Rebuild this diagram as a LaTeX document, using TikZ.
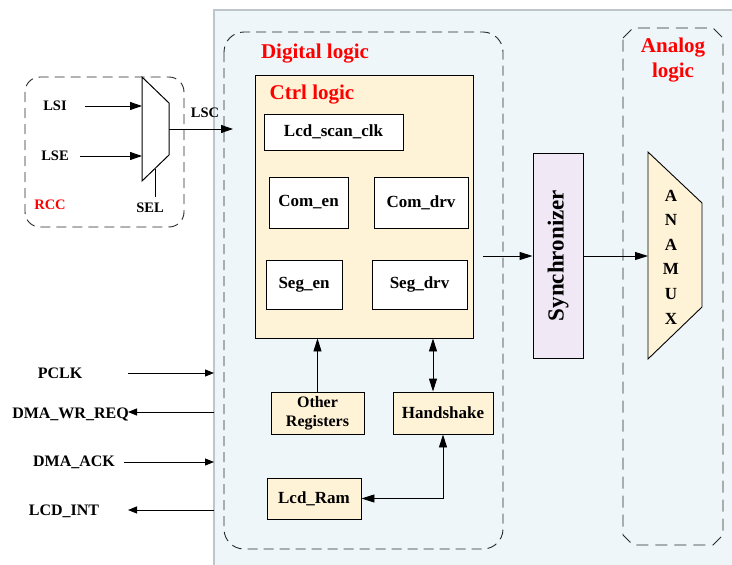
\documentclass[tikz,border=0pt]{standalone}
\usepackage{fontspec}
\setmainfont{Liberation Serif}
\usetikzlibrary{arrows.meta}
\definecolor{panelfill}{RGB}{239,246,250}
\definecolor{panelline}{RGB}{190,198,204}
\definecolor{cream}{RGB}{255,243,215}
\definecolor{lav}{RGB}{240,232,245}
\definecolor{redtxt}{RGB}{255,0,0}
\definecolor{dashgray}{RGB}{40,40,40}
\begin{document}
\begin{tikzpicture}[x=1pt,y=-1pt,
  lbl/.style={font=\bfseries\fontsize{16}{16}\selectfont, inner sep=0pt},
  smlbl/.style={font=\bfseries\fontsize{14.5}{14.5}\selectfont, inner sep=0pt},
  title/.style={font=\bfseries\fontsize{21}{25}\selectfont, text=redtxt, inner sep=0pt, align=center},
  blk/.style={draw, line width=0.9pt, fill=white, font=\bfseries\fontsize{17}{20}\selectfont, inner sep=0pt, align=center},
  arr/.style={-{Triangle[length=13pt,width=8pt]}, line width=0.9pt},
  sarr/.style={-{Triangle[length=9pt,width=7pt]}, line width=0.9pt},
  bigarr/.style={-{Triangle[length=12pt,width=8pt]}, line width=0.9pt},
  dbl/.style={{Triangle[length=13pt,width=8pt]}-{Triangle[length=13pt,width=8pt]}, line width=0.9pt},
  dashbox/.style={draw=dashgray, line width=0.9pt, dash pattern=on 10pt off 6pt}
]
\useasboundingbox (0,0) rectangle (732,565);
% panel
\fill[panelfill] (214,10) rectangle (740,575);
\draw[panelline, line width=1.2pt] (214,575) -- (214,10) -- (740,10);

% RCC block
\draw[dashbox, rounded corners=15pt] (25,77) rectangle (184,227);
\coordinate (m1) at (142,77);
\coordinate (m2) at (169,103);
\coordinate (m3) at (169,155);
\coordinate (m4) at (142,181);
\draw[line width=1pt, fill=white] (m1) -- (m2) -- (m3) -- (m4) -- cycle;
\node[smlbl] (lsi) at (55,106) {LSI};
\node[smlbl] (lse) at (55,156) {LSE};
\node[smlbl, text=redtxt] (rcc) at (50,205) {RCC};
\node[smlbl] (sel) at (150,208) {SEL};
\node[smlbl] (lsc) at (205,113) {LSC};
\coordinate (lsiS) at (85,106);
\coordinate (lseS) at (80,156);
\draw[bigarr] (lsiS) -- (lsiS -| m1);
\draw[bigarr] (lseS) -- (lseS -| m1);
\coordinate (selT) at (155,168.5);
\draw[line width=1pt] (selT) -- (155,197);
\coordinate (lscS) at (169,129);
\coordinate (lscE) at (233,129);
\draw[bigarr] (lscS) -- (lscE);

% Digital logic
\draw[dashbox, rounded corners=20pt] (224,32) rectangle (503,549);
\node[title] (dig) at (315,54) {Digital logic};

% Ctrl logic
\node[draw, line width=0.9pt, fill=cream, minimum width=218pt, minimum height=263pt, inner sep=0pt] (ctrl) at (364,206.5) {};
\node[title] (ctrlt) at (312,95) {Ctrl logic};
\node[blk, minimum width=139pt, minimum height=36pt] (scan) at (333.5,132) {Lcd\_scan\_clk};
\node[blk, minimum width=79pt, minimum height=51pt] (comen) at (308.5,202.5) {Com\_en};
\node[blk, minimum width=94pt, minimum height=51pt] (comdrv) at (421,202.5) {Com\_drv};
\node[blk, minimum width=76pt, minimum height=49pt] (segen) at (304,284.5) {Seg\_en};
\node[blk, minimum width=95pt, minimum height=49pt] (segdrv) at (419.5,284.5) {Seg\_drv};

\node[blk, fill=cream, minimum width=93pt, minimum height=42pt, font=\bfseries\fontsize{16}{19}\selectfont] (other) at (317.5,413) {Other\\Registers};
\node[blk, fill=cream, minimum width=100pt, minimum height=42pt] (hand) at (443,413) {Handshake};
\node[blk, fill=cream, minimum width=94pt, minimum height=41pt] (ram) at (314,498.5) {Lcd\_Ram};

\draw[arr] (other.north) -- (other.north |- ctrl.south);
\draw[dbl] ([xshift=-10pt]hand.north |- ctrl.south) -- ([xshift=-10pt]hand.north);
\draw[dbl] (hand.south) |- (ram.east);

% Synchronizer
\node[draw, line width=0.9pt, fill=lav, minimum width=50pt, minimum height=205pt, inner sep=0pt] (sync) at (558,255.5) {};
\node[font=\bfseries\fontsize{23}{23}\selectfont, rotate=90, inner sep=0pt] (synct) at (sync.center) {Synchronizer};
\coordinate (syncin) at (483,256);
\draw[arr] (syncin) -- (syncin -| sync.west);

% Analog logic
\draw[dashbox, dash pattern=on 12pt off 7pt] (623,38) -- (633,28) -- (713,28) -- (723,38) -- (723,535) -- (713,545) -- (633,545) -- (623,535) -- cycle;
\node[title] (ana) at (673,60) {Analog\\logic};
\coordinate (a1) at (648,152);
\coordinate (a2) at (702,203);
\coordinate (a3) at (702,307);
\coordinate (a4) at (648,359);
\draw[line width=0.9pt, fill=cream] (a1) -- (a2) -- (a3) -- (a4) -- cycle;
\node[font=\bfseries\fontsize{17}{24.6}\selectfont, align=center, inner sep=0pt] (anamux) at (671,257) {A\\N\\A\\M\\U\\X};
\draw[arr] (sync.east |- syncin) -- (syncin -| a1);

% Left signals
\node[lbl] (pclk) at (60,373) {PCLK};
\node[lbl] (wrreq) at (70.5,414) {DMA\_WR\_REQ};
\node[lbl] (ack) at (74,462) {DMA\_ACK};
\node[lbl] (lint) at (64,511) {LCD\_INT};
\coordinate (pclkS) at (128,373);
\coordinate (pclkE) at (214,373);
\draw[sarr] (pclkS) -- (pclkE);
\coordinate (wrS) at (214,412);
\coordinate (wrE) at (128,412);
\draw[sarr] (wrS) -- (wrE);
\coordinate (ackS) at (124,462);
\coordinate (ackE) at (214,462);
\draw[sarr] (ackS) -- (ackE);
\coordinate (intS) at (214,510);
\coordinate (intE) at (128,510);
\draw[sarr] (intS) -- (intE);
\end{tikzpicture}
\end{document}
